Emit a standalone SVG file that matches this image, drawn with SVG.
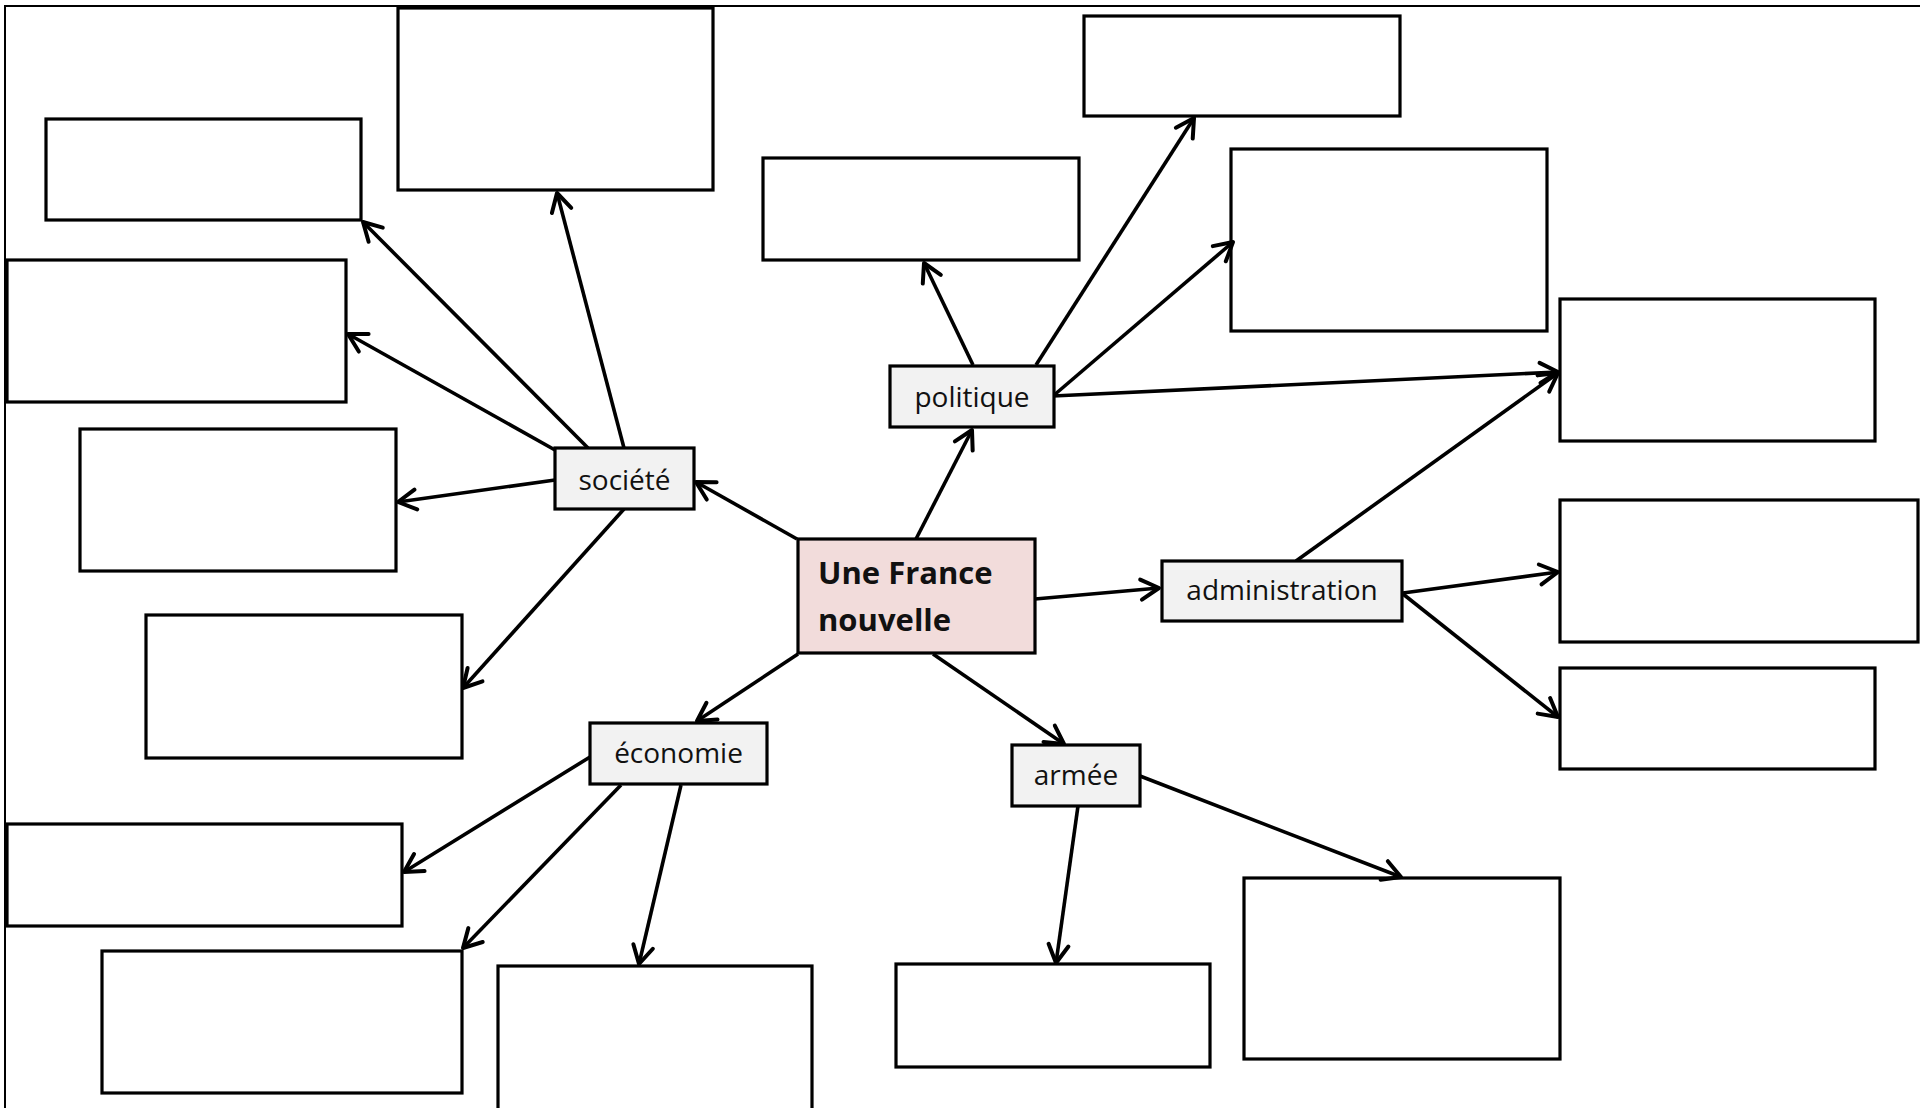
<svg xmlns="http://www.w3.org/2000/svg" width="1920" height="1108" viewBox="0 0 1920 1108">
<style>
.box{fill:#fff;stroke:#000;stroke-width:3.2}
.lab{fill:#f2f2f2;stroke:#000;stroke-width:3.2}
.main{fill:#f2dcdb;stroke:#000;stroke-width:3.2}
.t{font-family:"Open Sans","Liberation Sans",sans-serif;font-size:28px;fill:#111;text-anchor:middle}
.tm{font-family:"Open Sans","Liberation Sans",sans-serif;font-size:31px;font-weight:700;fill:#111}
.c line{stroke:#000;stroke-width:3.6;marker-end:url(#ah)}
</style>
<defs>
<marker id="ah" markerUnits="userSpaceOnUse" viewBox="-24 -14 28 28" markerWidth="28" markerHeight="28" refX="0" refY="0" orient="auto" overflow="visible">
<path d="M-18,-10 L0,0 L-18,10" fill="none" stroke="#000" stroke-width="4" stroke-linecap="round" stroke-linejoin="round"/>
</marker>
</defs>
<rect width="1920" height="1108" fill="#fff"/>
<path d="M5,1108 V6 H1920" fill="none" stroke="#000" stroke-width="2"/>

<g id="b1"><rect class="box" x="398" y="8" width="315" height="182"/></g>
<g id="b2"><rect class="box" x="46" y="119" width="315" height="101"/></g>
<g id="b3"><rect class="box" x="7" y="260" width="339" height="142"/></g>
<g id="b4"><rect class="box" x="80" y="429" width="316" height="142"/></g>
<g id="b5"><rect class="box" x="146" y="615" width="316" height="143"/></g>
<g id="b6"><rect class="box" x="7" y="824" width="395" height="102"/></g>
<g id="b7"><rect class="box" x="102" y="951" width="360" height="142"/></g>
<g id="b8"><rect class="box" x="498" y="966" width="314" height="146"/></g>
<g id="b9"><rect class="box" x="896" y="964" width="314" height="103"/></g>
<g id="b10"><rect class="box" x="1244" y="878" width="316" height="181"/></g>
<g id="b11"><rect class="box" x="1560" y="668" width="315" height="101"/></g>
<g id="b12"><rect class="box" x="1560" y="500" width="358" height="142"/></g>
<g id="b13"><rect class="box" x="1560" y="299" width="315" height="142"/></g>
<g id="b14"><rect class="box" x="1231" y="149" width="316" height="182"/></g>
<g id="b15"><rect class="box" x="1084" y="16" width="316" height="100"/></g>
<g id="b16"><rect class="box" x="763" y="158" width="316" height="102"/></g>

<g id="connectors" class="c">
<line x1="797" y1="539" x2="696" y2="482"/>
<line x1="916" y1="539" x2="972" y2="430"/>
<line x1="1035" y1="599" x2="1159" y2="588"/>
<line x1="798" y1="654" x2="697" y2="721"/>
<line x1="933" y1="654" x2="1064" y2="744"/>

<line x1="624" y1="448" x2="557" y2="193"/>
<line x1="588" y1="448" x2="363" y2="222"/>
<line x1="555" y1="450" x2="348" y2="334"/>
<line x1="555" y1="480" x2="398" y2="502"/>
<line x1="624" y1="509" x2="463" y2="688"/>

<line x1="973" y1="365" x2="924" y2="263"/>
<line x1="1036" y1="365" x2="1194" y2="118"/>
<line x1="1053" y1="396" x2="1233" y2="242"/>
<line x1="1053" y1="396" x2="1558" y2="372"/>

<line x1="1296" y1="561" x2="1558" y2="373"/>
<line x1="1403" y1="593" x2="1558" y2="572"/>
<line x1="1403" y1="594" x2="1558" y2="717"/>

<line x1="590" y1="757" x2="404" y2="872"/>
<line x1="621" y1="785" x2="463" y2="948"/>
<line x1="681" y1="785" x2="639" y2="964"/>

<line x1="1078" y1="806" x2="1056" y2="963"/>
<line x1="1140" y1="776" x2="1401" y2="877"/>
</g>

<g id="center"><rect class="main" x="798" y="539" width="237" height="114"/>
<text class="tm" x="818" y="584">Une France</text>
<text class="tm" x="818" y="631">nouvelle</text></g>
<g id="societe"><rect class="lab" x="555" y="448" width="139" height="61"/><text class="t" x="624.5" y="490">société</text></g>
<g id="politique"><rect class="lab" x="890" y="366" width="164" height="61"/><text class="t" x="972" y="407">politique</text></g>
<g id="administration"><rect class="lab" x="1162" y="561" width="240" height="60"/><text class="t" x="1282" y="600">administration</text></g>
<g id="economie"><rect class="lab" x="590" y="723" width="177" height="61"/><text class="t" x="678.5" y="763">économie</text></g>
<g id="armee"><rect class="lab" x="1012" y="745" width="128" height="61"/><text class="t" x="1076" y="785">armée</text></g>
</svg>
